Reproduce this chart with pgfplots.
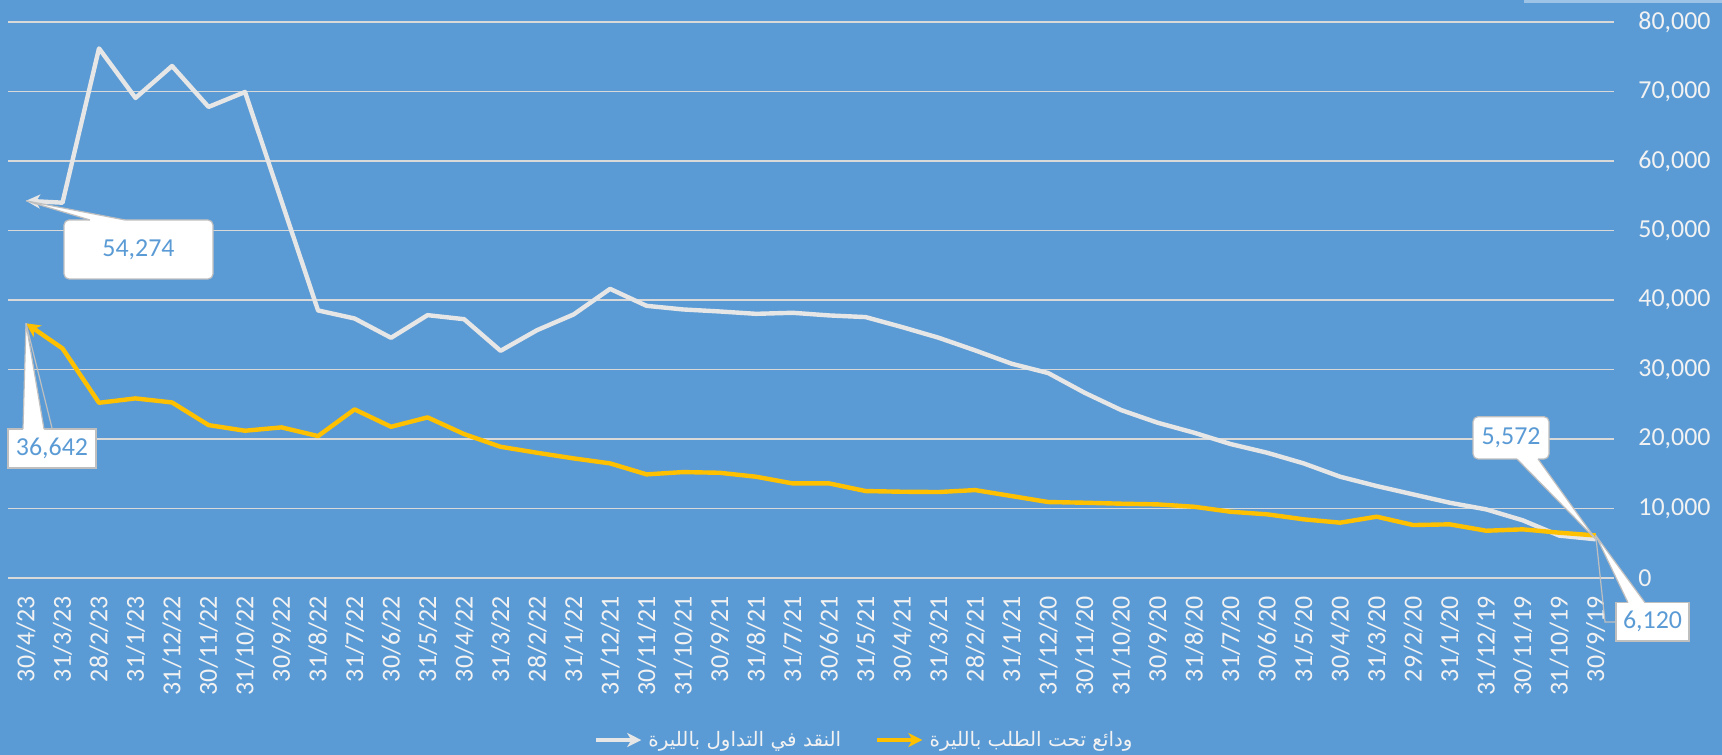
\documentclass[border=0pt]{standalone}
\usepackage{fontspec}
\setmainfont{Carlito}
\newfontfamily\arabicfont[Script=Arabic]{DejaVu Sans}
\TeXXeTstate=1
\usepackage{pgfplots}
\usepackage{pgfplotstable}
\pgfplotsset{compat=1.18}
\usetikzlibrary{arrows.meta}
\definecolor{bg}{HTML}{5B9BD5}
\definecolor{gridc}{HTML}{D9D9D9}
\definecolor{wline}{HTML}{E7E6E6}
\definecolor{yline}{HTML}{FFC000}
\definecolor{callgray}{HTML}{BFBFBF}
\definecolor{topbar}{HTML}{9DC3E6}
\definecolor{lbl}{HTML}{F2F2F2}

\pgfplotstableread{
idx cash dep
0 54274 36642
1 54000 33030
2 76200 25210
3 69070 25840
4 73670 25260
5 67780 22000
6 69930 21190
7 54200 21670
8 38500 20420
9 37340 24260
10 34560 21760
11 37820 23110
12 37240 20710
13 32690 18880
14 35660 18020
15 37920 17210
16 41600 16490
17 39160 14910
18 38640 15240
19 38350 15140
20 38010 14570
21 38160 13610
22 37780 13610
23 37540 12510
24 36100 12410
25 34570 12370
26 32750 12650
27 30830 11790
28 29490 10930
29 26650 10830
30 24160 10690
31 22340 10590
32 20900 10250
33 19270 9530
34 18020 9160
35 16490 8440
36 14570 7960
37 13230 8820
38 12030 7620
39 10830 7720
40 9870 6800
41 8300 7000
42 6100 6520
43 5572 6120
}\data

\begin{document}
\begin{tikzpicture}
\path[use as bounding box, fill=bg] (0,0) rectangle (861bp,377.5bp);
\fill[topbar] (762bp,376bp) rectangle (861bp,377.5bp);
\begin{axis}[
  at={(3.875bp,88.5bp)}, anchor=south west,
  scale only axis, width=803.125bp, height=278bp,
  xmin=-0.5, xmax=43.5, ymin=0, ymax=80000,
  axis line style={draw=none},
  tick style={draw=none}, major tick length=0pt,
  ymajorgrids, grid style={gridc, line width=0.75bp},
  ytick={0,10000,...,80000},
  scaled y ticks=false,
  yticklabel pos=right,
  /pgf/number format/.cd, 1000 sep={,}, assume math mode=true, /pgfplots/.cd,
  yticklabel style={anchor=west, inner sep=0pt, xshift=12bp, text=lbl, font=\fontsize{13}{15}\selectfont},
  xtick={0,...,43},
  xticklabels={30/4/23,31/3/23,28/2/23,31/1/23,31/12/22,30/11/22,31/10/22,30/9/22,31/8/22,31/7/22,30/6/22,31/5/22,30/4/22,31/3/22,28/2/22,31/1/22,31/12/21,30/11/21,31/10/21,30/9/21,31/8/21,31/7/21,30/6/21,31/5/21,30/4/21,31/3/21,28/2/21,31/1/21,31/12/20,30/11/20,31/10/20,30/9/20,31/8/20,31/7/20,30/6/20,31/5/20,30/4/20,31/3/20,29/2/20,31/1/20,31/12/19,30/11/19,31/10/19,30/9/19},
  xticklabel style={rotate=90, anchor=east, inner sep=0pt, text=lbl, font=\fontsize{13}{15}\selectfont},
  xticklabel shift=9bp,
  legend style={at={(0.365,-0.2914)}, anchor=west, draw=none, fill=none, inner sep=0pt, outer sep=0pt,
    text=lbl, font=\arabicfont\fontsize{10}{12}\selectfont, legend columns=2,
    /tikz/every even column/.append style={column sep=17bp},
    /tikz/every odd column/.append style={column sep=2.5bp},
    nodes={inner sep=0pt}},
  legend image code/.code={\draw[#1, arrows=-{Stealth[length=7bp,width=7bp,inset=2bp]}] (0bp,0bp) -- (22.5bp,0bp);},
]
\addplot[wline, line width=2.2bp, line join=round, {Stealth[length=7bp,width=7bp,inset=2bp]}-] table[x=idx,y=cash]{\data};
\addlegendentry{\beginR النقد في التداول بالليرة\endR}
\addplot[yline, line width=2.2bp, line join=round, {Stealth[length=7bp,width=7bp,inset=2bp]}-] table[x=idx,y=dep]{\data};
\addlegendentry{\beginR ودائع تحت الطلب بالليرة\endR}
\coordinate (pw0) at (axis cs:0,54274);
\coordinate (py0) at (axis cs:0,36642);
\coordinate (pw43) at (axis cs:43,5572);
\coordinate (py43) at (axis cs:43,6120);
\end{axis}
% callout 54,274
\draw[callgray, fill=white, line width=0.6bp, rounded corners=2.5bp] (32bp,238bp) rectangle (106.5bp,267.5bp);
\fill[white] (45bp,267.5bp) -- (pw0) -- (62.5bp,267.5bp) -- (62.5bp,266.6bp) -- (45bp,266.6bp) -- cycle;
\draw[callgray, line width=0.6bp] (45bp,267.5bp) -- (pw0) -- (62.5bp,267.5bp);
\node[text=bg, font=\fontsize{13}{15}\selectfont] at (69.25bp,252.75bp) {54,274};
% callout 36,642
\draw[callgray, line width=0.6bp] (py0) -- (26bp,163.5bp);
\draw[callgray, fill=white, line width=0.6bp] (4bp,143.5bp) rectangle (48bp,163bp);
\fill[white] (11.5bp,163bp) -- (py0) -- (22bp,163bp) -- (22bp,162.1bp) -- (11.5bp,162.1bp) -- cycle;
\draw[callgray, line width=0.6bp] (11.5bp,163bp) -- (py0) -- (22bp,163bp);
\node[text=bg, font=\fontsize{13}{15}\selectfont] at (26bp,153.25bp) {36,642};
% callout 5,572
\draw[callgray, fill=white, line width=0.6bp, rounded corners=2.5bp] (736.5bp,148bp) rectangle (774.5bp,169.15bp);
\fill[white] (758.5bp,148bp) -- (pw43) -- (769bp,148bp) -- (769bp,148.9bp) -- (758.5bp,148.9bp) -- cycle;
\draw[callgray, line width=0.6bp] (758.5bp,148bp) -- (pw43) -- (769bp,148bp);
\node[text=bg, font=\fontsize{13}{15}\selectfont] at (755.5bp,158.6bp) {5,572};
% callout 6,120
\draw[callgray, line width=0.6bp] (py43) -- (802.5bp,66.5bp) -- (808bp,66.5bp);
\draw[callgray, fill=white, line width=0.6bp] (808bp,57bp) rectangle (844.5bp,76.15bp);
\fill[white] (814bp,76.15bp) -- (py43) -- (822.5bp,76.15bp) -- (822.5bp,75.25bp) -- (814bp,75.25bp) -- cycle;
\draw[callgray, line width=0.6bp] (814bp,76.15bp) -- (py43) -- (822.5bp,76.15bp);
\node[text=bg, font=\fontsize{13}{15}\selectfont] at (826.25bp,66.6bp) {6,120};
\end{tikzpicture}
\end{document}
